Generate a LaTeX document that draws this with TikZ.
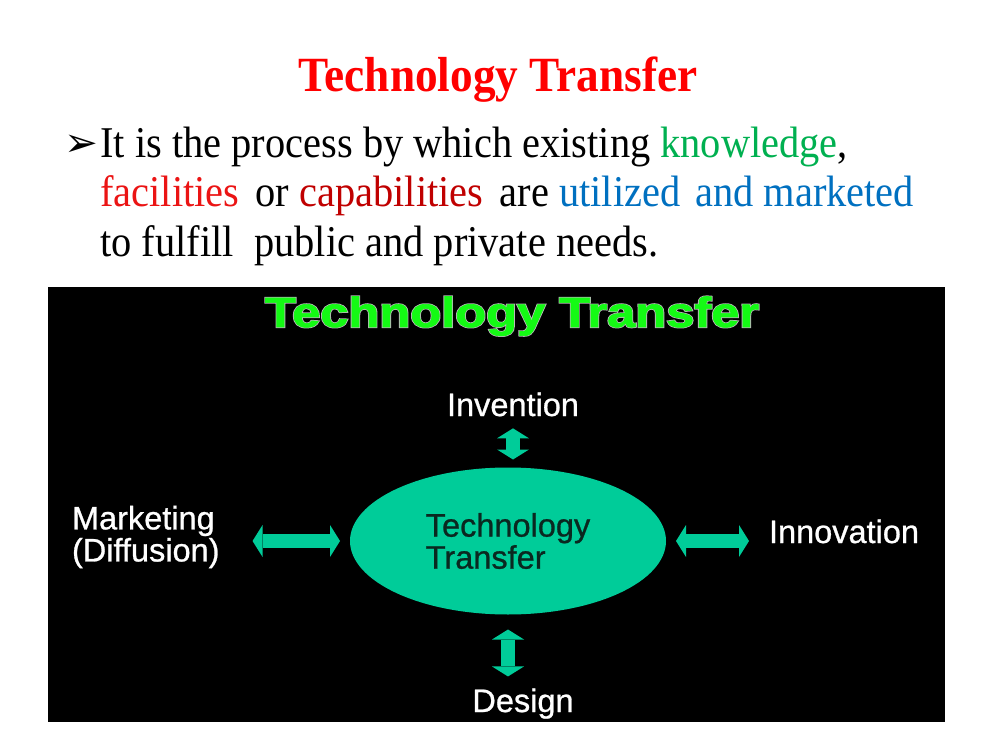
\documentclass[tikz,border=0pt]{standalone}
\usepackage{fontspec}
\setmainfont{Liberation Serif}
\setsansfont{Liberation Sans}
\newfontfamily\symfont{DejaVu Sans}
\newfontfamily\lblfont{Liberation Sans}[FakeBold=0.8]
\newfontfamily\heavyfont{Liberation Sans}[FakeBold=1.5]
\newfontfamily\rimfont{Liberation Sans}[FakeBold=5]
\usetikzlibrary{arrows.meta}
\usetikzlibrary{shapes.geometric}

\definecolor{ttgreen}{RGB}{0,204,153}
\definecolor{ttdark}{RGB}{10,40,32}
\definecolor{knowgreen}{RGB}{0,176,80}
\definecolor{facred}{RGB}{235,20,20}
\definecolor{capred}{RGB}{192,0,0}
\definecolor{useblue}{RGB}{0,112,192}
\definecolor{brightgreen}{RGB}{20,250,20}

\tikzset{
	lbl/.style={text=white, inner sep=0pt, outer sep=0pt, font=\lblfont\fontsize{18.5}{16.5}\selectfont},
	dbl/.style={ttgreen, line width=0.28cm,
		{Triangle[width=0.64cm,length=0.2cm,line width=0pt]}-{Triangle[width=0.64cm,length=0.2cm,line width=0pt]}},
	bodytext/.style={anchor=base west, inner sep=0pt, font=\fontsize{25}{30}\selectfont}
}

\begin{document}
\begin{tikzpicture}[>=stealth]
	\useasboundingbox (0,0) rectangle (20,15);
	
	%slide title
	\node[anchor=base, text=red, font=\bfseries\fontsize{28}{32}\selectfont] (title) at (9.96,13.16) {\scalebox{0.92}[1]{Technology Transfer}};
	
	%definition
	\node[anchor=base west, inner sep=0pt, font=\symfont\fontsize{23}{26}\selectfont] (bullet) at (1.28,11.86) {➢};
	\node[bodytext] (l1) at (2,11.84) {\scalebox{0.92}[1]{It is the process by which existing \textcolor{knowgreen}{knowledge},}};
	\node[bodytext] (l2) at (2,10.86) {\scalebox{0.92}[1]{\textcolor{facred}{facilities}\hspace{0.15em} or \textcolor{capred}{capabilities}\hspace{0.15em} are \textcolor{useblue}{utilized\hspace{0.12em} and marketed}}};
	\node[bodytext] (l3) at (2,9.86) {\scalebox{0.92}[1]{to fulfill \ public and private needs.}};
	
	%black panel
	\fill[black] (0.96,0.56) rectangle (18.9,9.26);
	
	%panel title (grey rim, then green)
	\node[anchor=base, text=gray!55, font=\rimfont\bfseries\fontsize{24}{28}\selectfont] (rim) at (10.24,8.46) {\scalebox{1.2}[1]{Technology Transfer}};
	\node[anchor=base, text=brightgreen, font=\heavyfont\bfseries\fontsize{24}{28}\selectfont] (ptitle) at (10.24,8.46) {\scalebox{1.2}[1]{Technology Transfer}};
	
	%centre ellipse
	\node[ellipse, fill=ttgreen, minimum width=6.32cm, minimum height=2.94cm, inner sep=0pt, outer sep=0pt,
		align=left, text=ttdark, font=\lblfont\fontsize{18.5}{16}\selectfont] (tt) at (10.16,4.18) {Technology\\Transfer};
	
	%labels
	\node[lbl, anchor=base] (inv) at (10.26,6.68) {Invention};
	\node[lbl, anchor=base] (des) at (10.46,0.76) {Design};
	\node[lbl, anchor=west, align=left] (mkt) at (1.44,4.26) {Marketing\\(Diffusion)};
	\node[lbl, anchor=base west] (inn) at (15.38,4.14) {Innovation};
	
	%double arrows
	\draw[dbl, shorten <=0.24cm, shorten >=0.16cm] (inv.south) -- (inv.south |- tt.north);	%top
	\draw[dbl, shorten <=0.3cm, shorten >=0.24cm] (tt.south) -- (tt.south |- des.north);	%bottom
	\draw[dbl, shorten <=0.2cm, shorten >=0.66cm] (tt.west) -- (tt.west -| mkt.east);	%left
	\draw[dbl, shorten <=0.2cm, shorten >=0.4cm] (tt.east) -- (tt.east -| inn.west);		%right
\end{tikzpicture}
\end{document}
